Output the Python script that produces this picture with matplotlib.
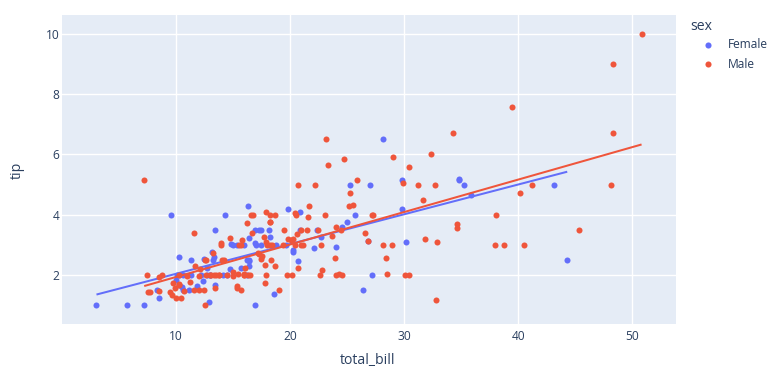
import numpy as np
import matplotlib
matplotlib.use("Agg")
import matplotlib.pyplot as plt
from matplotlib.lines import Line2D

# --- dane: tips (total_bill, tip, sex) ---
total_bill = [
    16.99, 10.34, 21.01, 23.68, 24.59, 25.29, 8.77, 26.88, 15.04, 14.78,
    10.27, 35.26, 15.42, 18.43, 14.83, 21.58, 10.33, 16.29, 16.97, 20.65,
    17.92, 20.29, 15.77, 39.42, 19.82, 17.81, 13.37, 12.69, 21.70, 19.65,
    9.55, 18.35, 15.06, 20.69, 17.78, 24.06, 16.31, 16.93, 18.69, 31.27,
    16.04, 17.46, 13.94, 9.68, 30.40, 18.29, 22.23, 32.40, 28.55, 18.04,
    12.54, 10.29, 34.81, 9.94, 25.56, 19.49, 38.01, 26.41, 11.24, 48.27,
    20.29, 13.81, 11.02, 18.29, 17.59, 20.08, 16.45, 3.07, 20.23, 15.01,
    12.02, 17.07, 26.86, 25.28, 14.73, 10.51, 17.92, 27.20, 22.76, 17.29,
    19.44, 16.66, 10.07, 32.68, 15.98, 34.83, 13.03, 18.28, 24.71, 21.16,
    28.97, 22.49, 5.75, 16.32, 22.75, 40.17, 27.28, 12.03, 21.01, 12.46,
    11.35, 15.38, 44.30, 22.42, 20.92, 15.36, 20.49, 25.21, 18.24, 14.31,
    14.00, 7.25, 38.07, 23.95, 25.71, 17.31, 29.93, 10.65, 12.43, 24.08,
    11.69, 13.42, 14.26, 15.95, 12.48, 29.80, 8.52, 14.52, 11.38, 22.82,
    19.08, 20.27, 11.17, 12.26, 18.26, 8.51, 10.33, 14.15, 16.00, 13.16,
    17.47, 34.30, 41.19, 27.05, 16.43, 8.35, 18.64, 11.87, 9.78, 7.51,
    14.07, 13.13, 17.26, 24.55, 19.77, 29.85, 48.17, 25.00, 13.39, 16.49,
    21.50, 12.66, 16.21, 13.81, 17.51, 24.52, 20.76, 31.71, 10.59, 10.63,
    50.81, 15.81, 7.25, 31.85, 16.82, 32.90, 17.89, 14.48, 9.60, 34.63,
    34.65, 23.33, 45.35, 23.17, 40.55, 20.69, 20.90, 30.46, 18.15, 23.10,
    15.69, 19.81, 28.44, 15.48, 16.58, 7.56, 10.34, 43.11, 13.00, 13.51,
    18.71, 12.74, 13.00, 16.40, 20.53, 16.47, 26.59, 38.73, 24.27, 12.76,
    30.06, 25.89, 48.33, 13.27, 28.17, 12.90, 28.15, 11.59, 7.74, 30.14,
    12.16, 13.42, 8.58, 15.98, 13.42, 16.27, 10.09, 20.45, 13.28, 22.12,
    24.01, 15.69, 11.61, 10.77, 15.53, 10.07, 12.60, 32.83, 35.83, 29.03,
    27.18, 22.67, 17.82, 18.78,
]
tip = [
    1.01, 1.66, 3.50, 3.31, 3.61, 4.71, 2.00, 3.12, 1.96, 3.23,
    1.71, 5.00, 1.57, 3.00, 3.02, 3.92, 1.67, 3.71, 3.50, 3.35,
    4.08, 2.75, 2.23, 7.58, 3.18, 2.34, 2.00, 2.00, 4.30, 3.00,
    1.45, 2.50, 3.00, 2.45, 3.27, 3.60, 2.00, 3.07, 2.31, 5.00,
    2.24, 2.54, 3.06, 1.32, 5.60, 3.00, 5.00, 6.00, 2.05, 3.00,
    2.50, 2.60, 5.20, 1.56, 4.34, 3.51, 3.00, 1.50, 1.76, 6.73,
    3.21, 2.00, 1.98, 3.76, 2.64, 3.15, 2.47, 1.00, 2.01, 2.09,
    1.97, 3.00, 3.14, 5.00, 2.20, 1.25, 3.08, 4.00, 3.00, 2.71,
    3.00, 3.40, 1.83, 5.00, 2.03, 5.17, 2.00, 4.00, 5.85, 3.00,
    3.00, 3.50, 1.00, 4.30, 3.25, 4.73, 4.00, 1.50, 3.00, 1.50,
    2.50, 3.00, 2.50, 3.48, 4.08, 1.64, 4.06, 4.29, 3.76, 4.00,
    3.00, 1.00, 4.00, 2.55, 4.00, 3.50, 5.07, 1.50, 1.80, 2.92,
    2.31, 1.68, 2.50, 2.00, 2.52, 4.20, 1.48, 2.00, 2.00, 2.18,
    1.50, 2.83, 1.50, 2.00, 3.25, 1.25, 2.00, 2.00, 2.00, 2.75,
    3.50, 6.70, 5.00, 5.00, 2.30, 1.50, 1.36, 1.63, 1.73, 2.00,
    2.50, 2.00, 2.74, 2.00, 2.00, 5.14, 5.00, 3.75, 2.61, 2.00,
    3.50, 2.50, 2.00, 2.00, 3.00, 3.48, 2.24, 4.50, 1.61, 2.00,
    10.00, 3.16, 5.15, 3.18, 4.00, 3.11, 2.00, 2.00, 4.00, 3.55,
    3.68, 5.65, 3.50, 6.50, 3.00, 5.00, 3.50, 2.00, 3.50, 4.00,
    1.50, 4.19, 2.56, 2.02, 4.00, 1.44, 2.00, 5.00, 2.00, 2.00,
    4.00, 2.01, 2.00, 2.50, 4.00, 3.23, 3.41, 3.00, 2.03, 2.23,
    2.00, 5.16, 9.00, 2.50, 6.50, 1.10, 3.00, 1.50, 1.44, 3.09,
    2.20, 3.48, 1.92, 3.00, 1.58, 2.50, 2.00, 3.00, 2.72, 2.88,
    2.00, 3.00, 3.39, 1.47, 3.00, 1.25, 1.00, 1.17, 4.67, 5.92,
    2.00, 2.00, 1.75, 3.00,
]
sex_codes = (
    "FMMMFMMMMM" "MFMMFMFMFM" "MFFMMMMMMF" "MMFFMMMFMM" "MMMMMMMMMM"
    "MFFMMMMFMM" "MMMMMMFFMM" "MFFFFMMMMM" "MMFMMFMMMM" "MMFFFMMMMM"
    "FFFFFMMMMF" "MFMMFFMFFF" "MFMMFFMFFM" "MFFFFFFFMF" "FMMFFFFFMM"
    "MMMMMFMFFM" "MMFMFMMMFF" "MMMMMMMMFM" "MMMMMMFMFM" "MFMMMMMFFM"
    "MFFFMFMMMF" "MMMFFFMMMF" "MFMFMFFMMF" "MMMMMMMMFM" "FMMF"
)
groups = ["Female", "Male"]
colors = {"Female": "#636EFA", "Male": "#EF553B"}
x_ticks = [10, 20, 30, 40, 50]
y_ticks = [2, 4, 6, 8, 10]

# --- przygotowanie ---
W, H = 783, 379
bill = np.array(total_bill)
tips = np.array(tip)
sex = np.array(["Female" if c == "F" else "Male" for c in sex_codes])

TXT = "#2a3f5f"
plt.rcParams["font.family"] = ["Open Sans", "DejaVu Sans"]

fig = plt.figure(figsize=(W / 100, H / 100), dpi=100)
L, R, T, B = 62, 675.7, 15, 324
ax = fig.add_axes([L / W, 1 - B / H, (R - L) / W, (B - T) / H])
ax.set_facecolor("#E5ECF6")
for s in ax.spines.values():
    s.set_visible(False)

z = 1
for g in groups:
    m = sex == g
    ax.scatter(bill[m], tips[m], s=19, color=colors[g], linewidths=0, zorder=z)
    # linia trendu OLS
    k, b0 = np.polyfit(bill[m], tips[m], 1)
    xs = np.array([bill[m].min(), bill[m].max()])
    ax.plot(xs, k * xs + b0, color=colors[g], lw=1.45, zorder=z + 1,
            solid_capstyle="butt")
    z += 2

ax.set_xlim(0.05, 53.8)
ax.set_ylim(0.374, 10.63)
ax.set_xticks(x_ticks)
ax.set_yticks(y_ticks)
ax.grid(True, color="white", lw=1)
ax.set_axisbelow(True)
ax.tick_params(length=0, labelsize=8.64, labelcolor=TXT)
ax.tick_params(axis="x", pad=4)
ax.tick_params(axis="y", pad=2)

fig.text(368 / W, 1 - 361 / H, "total_bill", ha="center", va="center",
         fontsize=10.08, color=TXT)
fig.text(17 / W, 1 - 170 / H, "tip", ha="center", va="center",
         rotation=90, fontsize=10.08, color=TXT)

# --- legenda ---
fig.text(690 / W, 1 - 27 / H, "sex", ha="left", va="center",
         fontsize=10.08, color=TXT)
for i, g in enumerate(groups):
    yy = 1 - (45 + i * 19) / H
    fig.add_artist(Line2D([708.3 / W], [yy], marker="o", markersize=4.4,
                          color=colors[g], markeredgewidth=0,
                          transform=fig.transFigure))
    fig.text(728 / W, yy, g, ha="left", va="center", fontsize=8.64, color=TXT)

fig.savefig("out.png", dpi=100)
